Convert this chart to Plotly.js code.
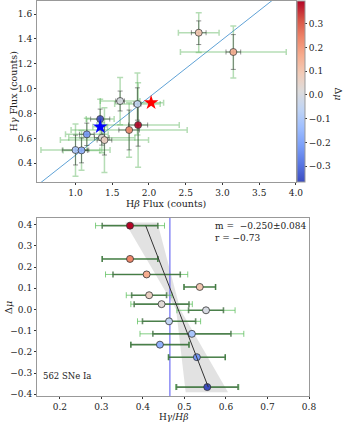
<!DOCTYPE html>
<html>
<head>
<meta charset="utf-8">
<script src="https://cdn.plot.ly/plotly-3.0.1.min.js"></script>
<style>
  html, body { margin: 0; padding: 0; background: #fff; }
  #chart { width: 345px; height: 422px; }
</style>
</head>
<body>
<div id="chart"></div>
<script>
// top panel: line fluxes per SN bin
const hbeta = [2.677, 3.148, 1.607, 1.843, 1.336, 1.852, 1.730, 1.154, 1.358, 1.394, 1.000, 1.082];
const hgamma = [1.450, 1.295, 0.901, 0.877, 0.756, 0.708, 0.668, 0.633, 0.606, 0.587, 0.507, 0.504];
const hbetaErr = [0.277, 0.72, 0.27, 0.31, 0.19, 0.56, 0.79, 0.29, 0.45, 0.60, 0.47, 0.25];
const hbetaErrIn = [0.10, 0.10, 0.06, 0.05, 0.13, 0.13, 0.14, 0.10, 0.10, 0.10, 0.18, 0.08];
const hgammaErr = [0.16, 0.21, 0.19, 0.25, 0.16, 0.34, 0.22, 0.13, 0.12, 0.26, 0.21, 0.16];
const hgammaErrIn = [0.095, 0.14, 0.08, 0.13, 0.08, 0.17, 0.16, 0.09, 0.06, 0.12, 0.12, 0.10];
const deltaMu = [0.106, 0.165, -0.004, -0.056, -0.366, 0.395, 0.238, -0.225, 0.025, 0.067, -0.115, -0.166];

// stars: red = high delta mu stack, blue = low delta mu stack
const starX = [2.029, 1.336];
const starY = [0.887, 0.694];
const starErrX = [0.17, 0.10];
const starColors = ['#ff0000', '#0000ff'];

// bottom panel: ratio vs delta mu
const ratio = [0.537, 0.409, 0.552, 0.463, 0.555, 0.369, 0.369, 0.530, 0.445, 0.415, 0.518, 0.441];
const ratioErr = [0.038, 0.099, 0.070, 0.076, 0.076, 0.083, 0.067, 0.069, 0.074, 0.055, 0.125, 0.070];
const ratioErrIn = [0.038, 0.081, 0.042, 0.064, 0.074, 0.067, 0.067, 0.068, 0.066, 0.042, 0.094, 0.070];

const meanRatio = 0.465;
const fitIntercept = 0.485;   // ratio at delta mu = 0
const fitSlope = -0.198;      // d(ratio)/d(delta mu)
const bandY = [0.41, 0.0, -0.39];
const bandLo = [0.357, 0.480, 0.503];
const bandHi = [0.435, 0.490, 0.605];

const coolwarm = [
  [0, '#3b4cc0'], [0.1, '#5977e3'], [0.2, '#7b9ff9'], [0.3, '#9ebeff'],
  [0.4, '#c0d4f5'], [0.5, '#dddcdc'], [0.6, '#f2cbb7'], [0.7, '#f7ac8e'],
  [0.8, '#ee8468'], [0.9, '#d65244'], [1, '#b40426']
];
const cmin = Math.min(...deltaMu), cmax = Math.max(...deltaMu);
const serif = 'DejaVu Serif';

const lineX = [0.4, 4.0];
const fitY = [cmin, cmax];

const traces = [
  {x: lineX, y: lineX.map(v => v * meanRatio), xaxis: 'x', yaxis: 'y', mode: 'lines',
   line: {color: '#5fa2d6', width: 1}, hoverinfo: 'skip'},
  {x: hbeta, y: hgamma, xaxis: 'x', yaxis: 'y', mode: 'markers',
   marker: {size: 1, color: 'rgba(0,0,0,0)'},
   error_x: {type: 'data', array: hbetaErr, color: 'rgba(70,170,70,0.4)', thickness: 1.5, width: 3},
   error_y: {type: 'data', array: hgammaErr, color: 'rgba(70,170,70,0.4)', thickness: 1.5, width: 3}},
  {x: starX, y: starY, xaxis: 'x', yaxis: 'y', mode: 'markers',
   marker: {size: 1, color: 'rgba(0,0,0,0)'},
   error_x: {type: 'data', array: starErrX, color: 'rgba(70,170,70,0.4)', thickness: 1.5, width: 3}},
  {x: hbeta, y: hgamma, xaxis: 'x', yaxis: 'y', mode: 'markers',
   marker: {size: 7, color: deltaMu, colorscale: coolwarm, cmin: cmin, cmax: cmax, opacity: 0.9,
            line: {color: '#333', width: 0.8},
            colorbar: {x: 0.956, xanchor: 'left', y: 1, yanchor: 'top', len: 0.4582, lenmode: 'fraction',
                       thickness: 8, outlinewidth: 1, outlinecolor: '#999', xpad: 0, ypad: 0,
                       ticks: 'outside', ticklen: 2, tickcolor: '#333',
                       tickvals: [-0.3, -0.2, -0.1, 0, 0.1, 0.2, 0.3], tickformat: '.1f',
                       tickfont: {family: serif, size: 9, color: '#222'}}},
   error_x: {type: 'data', array: hbetaErrIn, color: 'rgba(40,40,40,0.5)', thickness: 1, width: 2.5},
   error_y: {type: 'data', array: hgammaErrIn, color: 'rgba(40,40,40,0.5)', thickness: 1, width: 2.5}},
  {x: starX, y: starY, xaxis: 'x', yaxis: 'y', mode: 'markers',
   marker: {symbol: 'star', size: 11, color: starColors, line: {width: 0}}},

  {x: bandLo.concat(bandHi.slice().reverse()), y: bandY.concat(bandY.slice().reverse()),
   xaxis: 'x2', yaxis: 'y2', mode: 'lines', fill: 'toself', fillcolor: 'rgba(150,150,150,0.28)',
   line: {width: 0}, hoverinfo: 'skip'},
  {x: [meanRatio, meanRatio], y: [-0.5, 0.5], xaxis: 'x2', yaxis: 'y2', mode: 'lines',
   line: {color: '#6f6ff2', width: 1.2}, hoverinfo: 'skip'},
  {x: ratio, y: deltaMu, xaxis: 'x2', yaxis: 'y2', mode: 'markers',
   marker: {size: 1, color: 'rgba(0,0,0,0)'},
   error_x: {type: 'data', array: ratioErr, color: 'rgba(90,190,90,0.75)', thickness: 1, width: 3}},
  {x: ratio, y: deltaMu, xaxis: 'x2', yaxis: 'y2', mode: 'markers',
   marker: {size: 7, color: deltaMu, colorscale: coolwarm, cmin: cmin, cmax: cmax,
            line: {color: '#333', width: 0.8}},
   error_x: {type: 'data', array: ratioErrIn, color: 'rgba(40,90,40,0.7)', thickness: 1.6, width: 3}},
  {x: fitY.map(v => fitIntercept + fitSlope * v), y: fitY, xaxis: 'x2', yaxis: 'y2', mode: 'lines',
   line: {color: '#333', width: 1}, hoverinfo: 'skip'}
];
traces.forEach(t => { t.showlegend = false; });

const axisBase = {
  showline: true, mirror: true, linecolor: '#999', linewidth: 1,
  ticks: 'outside', ticklen: 2, tickcolor: '#333', showgrid: false, zeroline: false,
  tickfont: {family: serif, size: 9, color: '#222'}, automargin: false, tickformat: '.1f'
};

const titleFont = {family: serif, size: 9.5, color: '#222'};
const ann = (text, x, y, extra) => Object.assign(
  {text: text, x: x, y: y, xref: 'paper', yref: 'paper', showarrow: false, font: titleFont,
   xanchor: 'center', yanchor: 'middle'}, extra || {});

const layout = {
  width: 345, height: 422,
  margin: {l: 37, r: 36, t: 1, b: 26},
  paper_bgcolor: '#fff', plot_bgcolor: '#fff',
  xaxis: Object.assign({}, axisBase, {domain: [0, 0.952], range: [0.476, 4.0], anchor: 'y',
    tickvals: [1.0, 1.5, 2.0, 2.5, 3.0, 3.5, 4.0]}),
  yaxis: Object.assign({}, axisBase, {domain: [0.5418, 1], range: [0.25, 1.705], anchor: 'x',
    tickvals: [0.4, 0.6, 0.8, 1.0, 1.2, 1.4, 1.6]}),
  xaxis2: Object.assign({}, axisBase, {domain: [0, 1], range: [0.145, 0.8], anchor: 'y2',
    tickvals: [0.2, 0.3, 0.4, 0.5, 0.6, 0.7, 0.8]}),
  yaxis2: Object.assign({}, axisBase, {domain: [0, 0.4506], range: [-0.408, 0.431], anchor: 'x2',
    tickvals: [-0.4, -0.3, -0.2, -0.1, 0, 0.1, 0.2, 0.3, 0.4]}),
  annotations: [
    ann('H<i>β</i> Flux (counts)', 0.476, 0.4886),
    ann('H<i>γ</i> Flux (counts)', -0.088, 0.7709, {textangle: -90}),
    ann('Δ<i>μ</i>', 1.105, 0.7646, {textangle: 90}),
    ann('H<i>γ</i>/<i>Hβ</i>', 0.5, -0.0519, {font: {family: serif, size: 9, color: '#222'}}),
    ann('Δ<i>μ</i>', -0.107, 0.2253, {textangle: -90}),
    ann('m =  −0.250±0.084<br>r = −0.73', 0.647, 0.4481,
        {xanchor: 'left', yanchor: 'top', align: 'left', font: {family: serif, size: 9, color: '#222'}}),
    ann('562 SNe Ia', 0.0147, 0.0506,
        {xanchor: 'left', font: {family: serif, size: 8.5, color: '#222'}})
  ]
};

Plotly.newPlot('chart', traces, layout, {staticPlot: true, displayModeBar: false});
</script>
</body>
</html>
